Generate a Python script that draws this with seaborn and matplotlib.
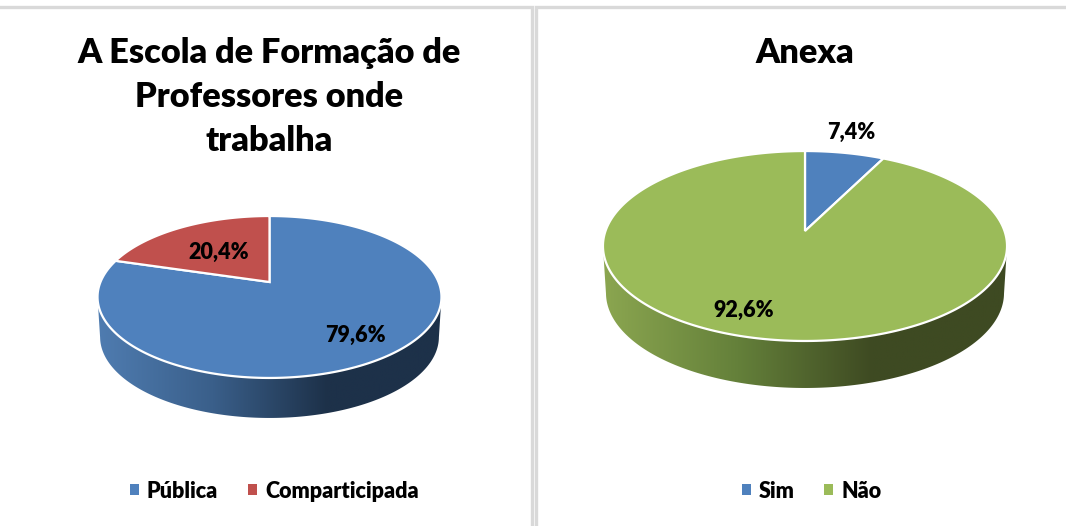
import numpy as np
import seaborn as sns
import matplotlib
matplotlib.use('Agg')
import matplotlib.pyplot as plt
from matplotlib.colors import LinearSegmentedColormap
from matplotlib.patches import Patch, Polygon

titulo_esq = 'A Escola de Formação de\nProfessores onde\ntrabalha'
titulo_dir = 'Anexa'
cat_esq = ['Pública', 'Comparticipada']
val_esq = [79.6, 20.4]
cat_dir = ['Sim', 'Não']
val_dir = [7.4, 92.6]
rotulos_esq = ['79,6%', '20,4%']
rotulos_dir = ['7,4%', '92,6%']
cores_esq = ['#4f81bd', '#c0504d']
cores_dir = ['#4f81bd', '#9bbb59']

sns.set_theme(style='white')
plt.rcParams['font.family'] = ['Lato', 'DejaVu Sans']

W, H = 1066, 526
fig = plt.figure(figsize=(W / 100, H / 100), dpi=100, facecolor='white')


def projeta(ang, g):
    # perspectiva simples: o centro do disco nao fica no centro da elipse
    u, v = np.sin(ang), np.cos(ang)
    w = 1 + g['k'] * v
    return g['cx'] + g['sx'] * u / w, g['cy'] - g['sy'] * v / w


def pizza(ax, valores, cores, g, cor_lado):
    # lateral com gradiente
    t = np.linspace(0, 2 * np.pi, 721)
    x, y = projeta(t, g)
    meio = (y.max() + y.min()) / 2
    sel = y >= meio
    ordem = np.argsort(x[sel])
    xb, yb = x[sel][ordem], y[sel][ordem]
    xf = g['cx'] + (xb - g['cx']) * 0.985
    lado = Polygon(np.r_[np.c_[xb, yb], np.c_[xf, yb + g['prof']][::-1]],
                   closed=True, fc='none', ec='none', transform=ax.transData)
    ax.add_patch(lado)
    cmap = LinearSegmentedColormap.from_list('lado', cor_lado)
    grad = np.linspace(0, 1, 256).reshape(1, -1)
    im = ax.imshow(grad, cmap=cmap, aspect='auto', zorder=1,
                   extent=[x.min(), x.max(), y.max() + g['prof'], y.min()])
    im.set_clip_path(lado)

    # topo
    ini = 0
    for valor, cor in zip(valores, cores):
        fim = ini + valor / 100 * 2 * np.pi
        a = np.linspace(ini, fim, 300)
        xa, ya = projeta(a, g)
        ax.fill(np.r_[g['cx'], xa], np.r_[g['cy'], ya], fc=cor, ec='white',
                lw=1.6, joinstyle='miter', zorder=2)
        ini = fim


def painel(pos, lim, titulo, titulo_xy, valores, cores, g, cor_lado, rotulos, rot_xy, cats, leg_x):
    ax = fig.add_axes(pos)
    pizza(ax, valores, cores, g, cor_lado)
    ax.set_xlim(*lim)
    ax.set_ylim(H, 0)
    ax.axis('off')
    ax.text(*titulo_xy, titulo, ha='center', va='center', fontsize=24.7, fontweight='heavy',
            color='black', linespacing=1.47)
    for r, xy in zip(rotulos, rot_xy):
        ax.text(*xy, r, ha='center', va='center', fontsize=15.5, fontweight='heavy', color='black', zorder=3)
    alcas = [Patch(fc=c, ec='none') for c in cores]
    ax.legend(alcas, cats, ncol=2, frameon=False, loc='center', bbox_to_anchor=leg_x,
              bbox_transform=ax.transData, prop={'size': 15.5, 'weight': 'heavy'}, labelcolor='black',
              handlelength=0.42, handleheight=0.42, handletextpad=0.35, columnspacing=1.4)
    return ax


geo_esq = dict(cx=269.5, cy=282, sx=169, sy=78.2, k=0.185, prof=40)
geo_dir = dict(cx=805, cy=231, sx=199.5, sy=92.6, k=0.158, prof=47)

painel([0, 0, 0.5, 1], (0, 533), titulo_esq, (269.5, 97), val_esq, cores_esq, geo_esq,
       ['#4f7cb0', '#3a5f8a', '#1d3149', '#1d3149'], rotulos_esq, [(355, 335), (219, 252)],
       cat_esq, (274.5, 491))
painel([0.5, 0, 0.5, 1], (533, 1066), titulo_dir, (805, 53), val_dir, cores_dir, geo_dir,
       ['#8ba650', '#64803a', '#3e4a22', '#3e4a22'], rotulos_dir, [(851, 132), (744, 310)],
       cat_dir, (811.5, 491))

# bordas dos dois quadros
for x0, x1 in [(-5, 532), (535.5, 1075)]:
    fig.add_artist(plt.Rectangle((x0 / W, -0.02), (x1 - x0) / W, 1 - 7 / H + 0.02, fc='none',
                                 ec='#d9d9d9', lw=2.4, transform=fig.transFigure))

fig.savefig('out.png', dpi=100)
